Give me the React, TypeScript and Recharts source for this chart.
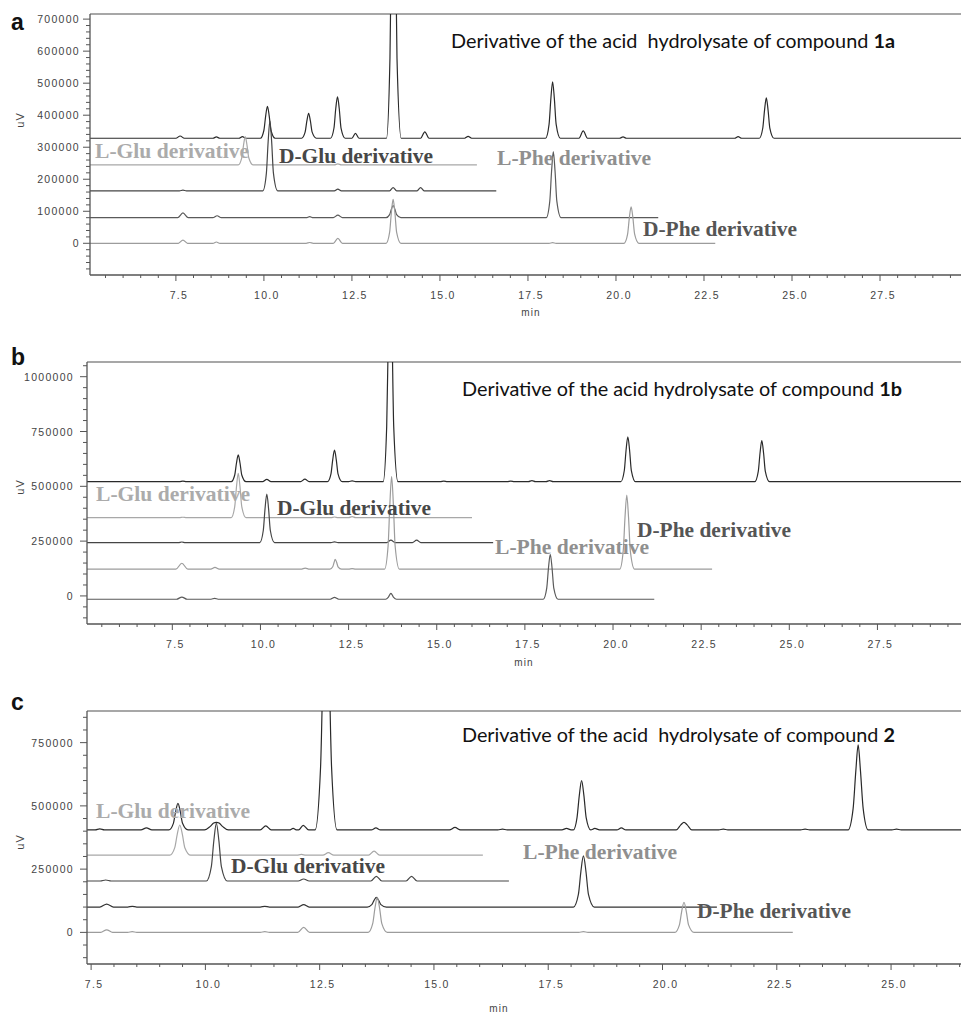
import React from 'react';
import { LineChart, Line, XAxis, YAxis, ReferenceLine } from 'recharts';

type P = [number, number];

// ---------- Panel a (compound 1a) ----------
const aMain: P[] = [
  [5.06, 328000], [7.5, 328000], [7.62, 335000], [7.74, 328000], [8.55, 328000], [8.65, 332000], [8.75, 328000],
  [9.29, 328000], [9.39, 333000], [9.49, 328000],
  [9.9, 328000], [10.0, 353000], [10.05, 398000], [10.1, 428000], [10.15, 398000], [10.2, 353000], [10.32, 328000],
  [11.07, 328000], [11.17, 347000], [11.22, 382000], [11.27, 406000], [11.32, 382000], [11.37, 347000], [11.49, 328000],
  [11.89, 328000], [11.99, 360000], [12.04, 420000], [12.09, 457000], [12.14, 420000], [12.19, 360000], [12.31, 328000],
  [12.5, 328000], [12.6, 343000], [12.7, 328000],
  [13.48, 328000], [13.58, 578000], [13.63, 1028000], [13.68, 1328000], [13.73, 1028000], [13.78, 578000], [13.9, 328000],
  [14.45, 328000], [14.57, 348000], [14.69, 328000],
  [15.7, 328000], [15.8, 334000], [15.9, 328000],
  [18.0, 328000], [18.1, 372000], [18.15, 451000], [18.2, 504000], [18.25, 451000], [18.3, 372000], [18.42, 328000],
  [18.95, 328000], [19.07, 351000], [19.19, 328000],
  [20.1, 328000], [20.2, 332000], [20.3, 328000],
  [23.37, 328000], [23.47, 333000], [23.57, 328000],
  [24.07, 328000], [24.17, 360000], [24.22, 416000], [24.27, 454000], [24.32, 416000], [24.37, 360000], [24.49, 328000],
  [29.8, 328000],
];
const aLGlu: P[] = [
  [5.06, 245000], [9.27, 245000], [9.37, 267000], [9.42, 306000], [9.47, 333000], [9.52, 306000], [9.57, 267000], [9.69, 245000],
  [12.0, 245000], [12.1, 248000], [12.2, 245000], [16.05, 245000],
];
const aDGlu: P[] = [
  [5.06, 164000], [7.6, 164000], [7.7, 166000], [7.8, 164000],
  [9.97, 164000], [10.07, 219000], [10.12, 317000], [10.17, 382000], [10.22, 317000], [10.27, 219000], [10.39, 164000],
  [12.0, 164000], [12.1, 169000], [12.2, 164000], [13.57, 164000], [13.67, 174000], [13.77, 164000],
  [14.35, 164000], [14.45, 174000], [14.55, 164000], [16.6, 164000],
];
const aLPhe: P[] = [
  [5.06, 80000], [7.55, 80000], [7.7, 95000], [7.85, 80000], [8.55, 80000], [8.67, 86000], [8.79, 80000],
  [11.2, 80000], [11.3, 83000], [11.4, 80000], [11.97, 80000], [12.1, 88000], [12.23, 80000],
  [13.47, 80000], [13.57, 89500], [13.62, 106600], [13.67, 118000], [13.72, 106600], [13.77, 89500], [13.89, 80000],
  [18.02, 80000], [18.12, 131500], [18.17, 224000], [18.22, 286000], [18.27, 224000], [18.32, 131500], [18.44, 80000],
  [21.2, 80000],
];
const aDPhe: P[] = [
  [5.06, 0], [7.57, 0], [7.7, 10000], [7.83, 0], [8.55, 0], [8.65, 4000], [8.75, 0],
  [11.2, 0], [11.3, 2500], [11.4, 0], [11.97, 0], [12.1, 15500], [12.23, 0],
  [13.47, 0], [13.57, 34000], [13.62, 96000], [13.67, 137000], [13.72, 96000], [13.77, 34000], [13.89, 0],
  [18.1, 0], [18.2, 2000], [18.3, 0],
  [20.23, 0], [20.33, 28500], [20.38, 80000], [20.43, 114000], [20.48, 80000], [20.53, 28500], [20.65, 0],
  [22.82, 0],
];

// ---------- Panel b (compound 1b) ----------
const bMain: P[] = [
  [5.08, 521000], [7.7, 521000], [7.8, 524000], [7.9, 521000],
  [9.17, 521000], [9.27, 551500], [9.32, 606400], [9.37, 643000], [9.42, 606400], [9.47, 551500], [9.59, 521000],
  [10.06, 521000], [10.18, 532000], [10.3, 521000],
  [11.14, 521000], [11.26, 533000], [11.38, 521000],
  [11.9, 521000], [12.0, 557000], [12.05, 622000], [12.1, 665600], [12.15, 622000], [12.2, 557000], [12.32, 521000],
  [12.5, 521000], [12.6, 525000], [12.7, 521000],
  [13.48, 521000], [13.58, 771000], [13.63, 1221000], [13.68, 1521000], [13.73, 1221000], [13.78, 771000], [13.9, 521000],
  [15.1, 521000], [15.2, 524000], [15.3, 521000],
  [17.0, 521000], [17.1, 524000], [17.2, 521000], [17.6, 521000], [17.7, 526000], [17.8, 521000],
  [18.1, 521000], [18.2, 526000], [18.3, 521000],
  [20.22, 521000], [20.32, 572000], [20.37, 664500], [20.42, 726000], [20.47, 664500], [20.52, 572000], [20.64, 521000],
  [24.02, 521000], [24.12, 568000], [24.17, 652000], [24.22, 708000], [24.27, 652000], [24.32, 568000], [24.44, 521000],
  [29.87, 521000],
];
const bLGlu: P[] = [
  [5.08, 357000], [7.7, 357000], [7.8, 359000], [7.9, 357000],
  [9.17, 357000], [9.27, 407500], [9.32, 498000], [9.37, 559000], [9.42, 498000], [9.47, 407500], [9.59, 357000],
  [12.0, 357000], [12.1, 360000], [12.2, 357000], [12.5, 357000], [12.6, 362000], [12.7, 357000],
  [16.0, 357000],
];
const bDGlu: P[] = [
  [5.08, 243000], [7.67, 243000], [7.77, 246000], [7.87, 243000],
  [9.98, 243000], [10.08, 298500], [10.13, 398000], [10.18, 465000], [10.23, 398000], [10.28, 298500], [10.4, 243000],
  [12.0, 243000], [12.1, 247000], [12.2, 243000],
  [13.58, 243000], [13.7, 255000], [13.82, 243000], [14.31, 243000], [14.43, 255000], [14.55, 243000],
  [16.6, 243000],
];
const bDPhe: P[] = [
  [5.08, 122000], [7.6, 122000], [7.77, 149000], [7.94, 122000], [8.59, 122000], [8.71, 130000], [8.83, 122000],
  [11.15, 122000], [11.27, 127000], [11.39, 122000],
  [11.97, 122000], [12.05, 133000], [12.09, 153500], [12.12, 167000], [12.16, 153500], [12.2, 133000], [12.3, 122000],
  [12.5, 122000], [12.6, 125000], [12.7, 122000],
  [13.52, 122000], [13.62, 227500], [13.67, 417000], [13.72, 544000], [13.77, 417000], [13.82, 227500], [13.94, 122000],
  [20.19, 122000], [20.29, 206500], [20.34, 358600], [20.39, 460000], [20.44, 358600], [20.49, 206500], [20.61, 122000],
  [22.81, 122000],
];
const bLPhe: P[] = [
  [5.08, -15000], [7.62, -15000], [7.77, -5000], [7.92, -15000], [8.6, -15000], [8.7, -11000], [8.8, -15000],
  [11.98, -15000], [12.1, -7000], [12.22, -15000],
  [13.55, -15000], [13.63, -5000], [13.7, 12000], [13.77, -5000], [13.86, -15000],
  [18.02, -15000], [18.12, 36000], [18.17, 128500], [18.22, 190000], [18.27, 128500], [18.32, 36000], [18.44, -15000],
  [21.17, -15000],
];

// ---------- Panel c (compound 2) ----------
const cMain: P[] = [
  [7.41, 405000], [7.59, 405000], [7.69, 409000], [7.79, 405000], [8.59, 405000], [8.71, 413000], [8.83, 405000],
  [9.2, 405000], [9.3, 431000], [9.35, 478500], [9.4, 510000], [9.45, 478500], [9.5, 431000], [9.62, 405000],
  [9.98, 405000], [10.1, 418000], [10.18, 432000], [10.24, 435000], [10.3, 432000], [10.38, 418000], [10.5, 405000],
  [11.2, 405000], [11.32, 421000], [11.44, 405000], [11.84, 405000], [11.92, 411000], [12.0, 405000],
  [12.04, 405000], [12.14, 423000], [12.26, 405000],
  [12.4, 405000], [12.52, 655000], [12.58, 1105000], [12.64, 1405000], [12.7, 1105000], [12.76, 655000], [12.88, 405000],
  [13.63, 405000], [13.73, 413000], [13.83, 405000], [15.34, 405000], [15.46, 415000], [15.58, 405000],
  [16.4, 405000], [16.5, 408000], [16.6, 405000], [17.8, 405000], [17.9, 411000], [18.0, 405000],
  [18.05, 405000], [18.13, 453750], [18.18, 541500], [18.23, 600000], [18.28, 541500], [18.33, 453750], [18.43, 405000],
  [18.52, 411000], [18.62, 405000], [19.0, 405000], [19.1, 413000], [19.2, 405000],
  [20.3, 405000], [20.4, 425000], [20.47, 435000], [20.54, 425000], [20.64, 405000],
  [21.23, 405000], [21.33, 408000], [21.43, 405000], [23.02, 405000], [23.12, 408000], [23.22, 405000],
  [24.06, 405000], [24.17, 489000], [24.23, 640200], [24.28, 741000], [24.33, 640200], [24.39, 489000], [24.5, 405000],
  [25.02, 405000], [25.12, 408000], [25.22, 405000],
  [26.53, 405000],
];
const cLGlu: P[] = [
  [7.41, 305000], [9.22, 305000], [9.33, 334850], [9.385, 388600], [9.44, 424400], [9.495, 388600], [9.55, 334850], [9.68, 305000],
  [12.0, 305000], [12.1, 308000], [12.2, 305000], [12.57, 305000], [12.69, 315000], [12.81, 305000],
  [13.57, 305000], [13.69, 321000], [13.81, 305000], [16.07, 305000],
];
const cDGlu: P[] = [
  [7.41, 203000], [7.7, 203000], [7.82, 207000], [7.94, 203000],
  [10.02, 203000], [10.13, 260000], [10.185, 362600], [10.24, 431000], [10.295, 362600], [10.35, 260000], [10.48, 203000],
  [12.03, 203000], [12.15, 211000], [12.27, 203000], [13.62, 203000], [13.74, 221000], [13.86, 203000],
  [14.39, 203000], [14.51, 221000], [14.63, 203000], [16.64, 203000],
];
const cLPhe: P[] = [
  [7.41, 100000], [7.69, 100000], [7.84, 112000], [7.99, 100000], [8.3, 100000], [8.4, 103000], [8.5, 100000],
  [11.2, 100000], [11.3, 103000], [11.4, 100000], [12.03, 100000], [12.15, 110000], [12.27, 100000],
  [13.54, 100000], [13.64, 109500], [13.69, 126600], [13.74, 138000], [13.79, 126600], [13.84, 109500], [13.96, 100000],
  [18.05, 100000], [18.16, 150500], [18.215, 241400], [18.27, 302000], [18.325, 241400], [18.38, 150500], [18.51, 100000],
  [21.19, 100000],
];
const cDPhe: P[] = [
  [7.41, 0], [7.71, 0], [7.84, 10000], [7.97, 0], [8.3, 0], [8.4, 3000], [8.5, 0],
  [11.2, 0], [11.3, 3000], [11.4, 0], [12.02, 0], [12.15, 20000], [12.28, 0],
  [13.56, 0], [13.66, 34500], [13.71, 96600], [13.76, 138000], [13.81, 96600], [13.86, 34500], [13.98, 0],
  [18.17, 0], [18.27, 3000], [18.37, 0],
  [20.27, 0], [20.37, 29750], [20.42, 83300], [20.47, 119000], [20.52, 83300], [20.57, 29750], [20.69, 0],
  [22.85, 0],
];

// ---------- Axis tick labels ----------
const xMajorA = [7.5, 10, 12.5, 15, 17.5, 20, 22.5, 25, 27.5];
const xMajorC = [7.5, 10, 12.5, 15, 17.5, 20, 22.5, 25];
const yMajorA = [0, 100000, 200000, 300000, 400000, 500000, 600000, 700000];
const yMajorB = [0, 250000, 500000, 750000, 1000000];
const yMajorC = [0, 250000, 500000, 750000];

const titles = [
  { main: 'Derivative of the acid  hydrolysate of compound ', bold: '1a' },
  { main: 'Derivative of the acid hydrolysate of compound ', bold: '1b' },
  { main: 'Derivative of the acid  hydrolysate of compound ', bold: '2' },
];

const range = (lo: number, hi: number, step: number) => {
  const out: number[] = [];
  const n = Math.round((hi - lo) / step);
  for (let i = 0; i <= n; i++) out.push(Math.round((lo + i * step) * 1000) / 1000);
  return out;
};

const C_MAIN = '#2a2a2a';
const C_LGLU = '#a8a8a8';
const C_DGLU = '#454545';
const C_LPHE = '#5a5a5a';
const C_DPHE = '#9c9c9c';
const AXIS = '#555';
const TICK_FONT = '"Liberation Sans", Arial, sans-serif';

const isIn = (arr: number[], v: number) => arr.some((m) => Math.abs(m - v) < 1e-6);

const makeXTick = (majors: number[]) => (props: any) => {
  const { x, y, payload } = props;
  const v = payload.value as number;
  const major = isIn(majors, v);
  return (
    <g>
      <line x1={x} y1={y} x2={x} y2={y + (major ? 6 : 3)} stroke={AXIS} strokeWidth={1} />
      {major && (
        <text x={x + 3} y={y + 24} textAnchor="middle" fontFamily={TICK_FONT} fontSize={10.5}
          letterSpacing={1.3} fill="#444">{v.toFixed(1)}</text>
      )}
    </g>
  );
};

const makeYTick = (majors: number[], gap: number) => (props: any) => {
  const { x, y, payload } = props;
  const v = payload.value as number;
  const major = isIn(majors, v);
  return (
    <g>
      <line x1={x - (major ? 7 : 4)} y1={y} x2={x} y2={y} stroke={AXIS} strokeWidth={1} />
      {major && (
        <text x={x - gap} y={y + 4} textAnchor="end" fontFamily={TICK_FONT} fontSize={10.5}
          letterSpacing={1.3} fill="#444">{String(v)}</text>
      )}
    </g>
  );
};

type Series = { data: P[]; color: string };
type Panel = {
  top: number; height: number; left: number; mTop: number; mBottom: number;
  xDomain: [number, number]; xTicks: number[]; xMajors: number[];
  yDomain: [number, number]; yTicks: number[]; yMajors: number[]; yGap: number;
  series: Series[];
};

const panels: Panel[] = [
  {
    top: 0, height: 330, left: 90, mTop: 14, mBottom: 15,
    xDomain: [5.06, 29.8], xTicks: range(5.5, 29.5, 0.5), xMajors: xMajorA,
    yDomain: [-99000, 716000], yTicks: range(-80000, 700000, 20000), yMajors: yMajorA, yGap: 10,
    series: [
      { data: aMain, color: C_MAIN }, { data: aLGlu, color: C_LGLU }, { data: aDGlu, color: C_DGLU },
      { data: aLPhe, color: C_LPHE }, { data: aDPhe, color: C_DPHE },
    ],
  },
  {
    top: 340, height: 330, left: 87, mTop: 22, mBottom: 6,
    xDomain: [5.08, 29.87], xTicks: range(5.5, 29.5, 0.5), xMajors: xMajorA,
    yDomain: [-128000, 1067000], yTicks: range(-100000, 1050000, 50000), yMajors: yMajorB, yGap: 13,
    series: [
      { data: bMain, color: C_MAIN }, { data: bLGlu, color: C_LGLU }, { data: bDGlu, color: C_DGLU },
      { data: bDPhe, color: C_DPHE }, { data: bLPhe, color: C_LPHE },
    ],
  },
  {
    top: 680, height: 334, left: 87, mTop: 31, mBottom: 10,
    xDomain: [7.41, 26.53], xTicks: range(7.5, 26.5, 0.5), xMajors: xMajorC,
    yDomain: [-125000, 875000], yTicks: range(-100000, 850000, 50000), yMajors: yMajorC, yGap: 13,
    series: [
      { data: cMain, color: C_MAIN }, { data: cLGlu, color: C_LGLU }, { data: cDGlu, color: C_DGLU },
      { data: cLPhe, color: '#333' }, { data: cDPhe, color: C_DPHE },
    ],
  },
];

const PanelChart = ({ p }: { p: Panel }) => (
  <div style={{ position: 'absolute', left: 0, top: p.top }}>
    <LineChart width={961} height={p.height} margin={{ top: p.mTop, right: 0, bottom: p.mBottom, left: 0 }}>
      <XAxis type="number" dataKey="t" domain={p.xDomain} allowDataOverflow ticks={p.xTicks} interval={0}
        height={40} tickSize={0} tickMargin={0} tickLine={false} axisLine={{ stroke: AXIS, strokeWidth: 1.3 }}
        tick={makeXTick(p.xMajors)} />
      <YAxis type="number" dataKey="v" domain={p.yDomain} allowDataOverflow ticks={p.yTicks} interval={0}
        width={p.left} tickSize={0} tickMargin={0} tickLine={false} axisLine={{ stroke: AXIS, strokeWidth: 1.3 }}
        tick={makeYTick(p.yMajors, p.yGap)} />
      <ReferenceLine y={p.yDomain[1]} stroke="#8a8a8a" strokeWidth={1.5} />
      {p.series.map((s, i) => (
        <Line key={i} data={s.data.map(([t, v]) => ({ t, v }))} dataKey="v" type="monotone" stroke={s.color}
          strokeWidth={1.2} dot={false} activeDot={false} isAnimationActive={false} />
      ))}
    </LineChart>
  </div>
);

const SERIF = '"Liberation Serif", "Times New Roman", serif';
const SANS = 'Lato, "Open Sans", sans-serif';

const derivLabels = [
  { text: 'L-Glu derivative', x: 95, y: 158, color: '#ababab' },
  { text: 'D-Glu derivative', x: 279, y: 163, color: '#474747' },
  { text: 'L-Phe derivative', x: 497, y: 165, color: '#8f8f8f' },
  { text: 'D-Phe derivative', x: 643, y: 236, color: '#555555' },
  { text: 'L-Glu derivative', x: 96, y: 501, color: '#ababab' },
  { text: 'D-Glu derivative', x: 277, y: 515, color: '#474747' },
  { text: 'D-Phe derivative', x: 637, y: 537, color: '#555555' },
  { text: 'L-Phe derivative', x: 495, y: 554, color: '#8f8f8f' },
  { text: 'L-Glu derivative', x: 96, y: 818, color: '#ababab' },
  { text: 'D-Glu derivative', x: 231, y: 873, color: '#474747' },
  { text: 'L-Phe derivative', x: 523, y: 859, color: '#8f8f8f' },
  { text: 'D-Phe derivative', x: 697, y: 918, color: '#555555' },
];

const titlePos = [
  { x: 451, y: 48, w: 444 },
  { x: 462, y: 396, w: 440 },
  { x: 462, y: 742, w: 433 },
];
const letters = [
  { t: 'a', x: 11, y: 30 },
  { t: 'b', x: 11, y: 365 },
  { t: 'c', x: 11, y: 710 },
];
const uvPos = [120, 487, 842];
const minPos = [
  { x: 531, y: 316 },
  { x: 524, y: 666 },
  { x: 499, y: 1012 },
];

export default function App() {
  return (
    <div style={{ position: 'absolute', left: 0, top: 0, width: 961, height: 1014, background: '#fff', overflow: 'hidden' }}>
      {panels.map((p, i) => <PanelChart key={i} p={p} />)}
      <svg width={961} height={1014} style={{ position: 'absolute', left: 0, top: 0, pointerEvents: 'none' }}>
        {letters.map((l, i) => (
          <text key={'l' + i} x={l.x} y={l.y} fontFamily='"Liberation Sans", Arial, sans-serif' fontWeight="bold"
            fontSize={23} fill="#111">{l.t}</text>
        ))}
        {titles.map((t, i) => (
          <text key={'t' + i} x={titlePos[i].x} y={titlePos[i].y} fontFamily={SANS} fontSize={18.5} fill="#111"
            style={{ whiteSpace: 'pre' }} textLength={titlePos[i].w} lengthAdjust="spacingAndGlyphs">
            {t.main}<tspan fontWeight="bold">{t.bold}</tspan>
          </text>
        ))}
        {uvPos.map((y, i) => (
          <text key={'u' + i} x={20} y={y} transform={`rotate(-90 20 ${y})`} textAnchor="middle"
            fontFamily={TICK_FONT} fontSize={11} letterSpacing={1} fill="#444" dy={4}>uV</text>
        ))}
        {minPos.map((m, i) => (
          <text key={'m' + i} x={m.x} y={m.y} textAnchor="middle" fontFamily={TICK_FONT} fontSize={10}
            letterSpacing={1.2} fill="#444">min</text>
        ))}
        {derivLabels.map((d, i) => (
          <text key={'d' + i} x={d.x} y={d.y} fontFamily={SERIF} fontWeight="bold" fontSize={21.5} fill={d.color}
            textLength={154} lengthAdjust="spacingAndGlyphs">{d.text}</text>
        ))}
      </svg>
    </div>
  );
}
